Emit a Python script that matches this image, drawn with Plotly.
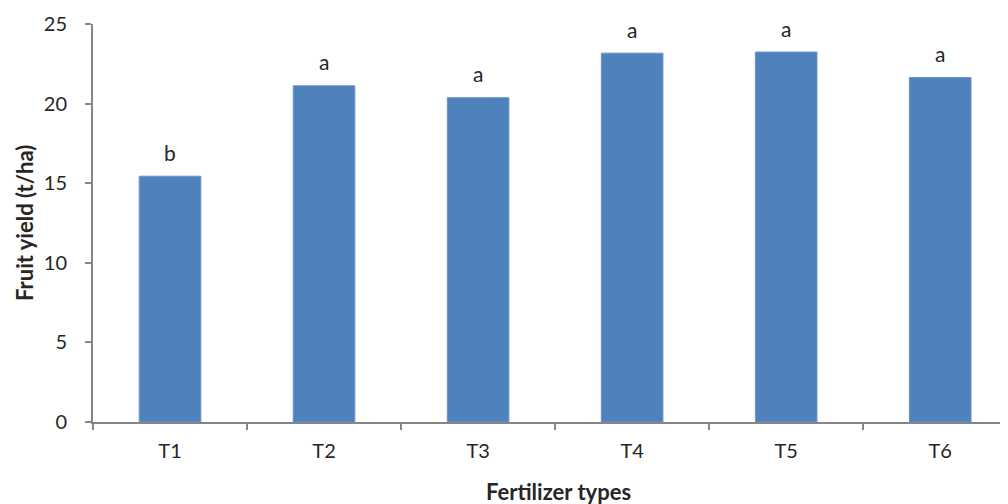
import plotly.graph_objects as go

categories = ["T1", "T2", "T3", "T4", "T5", "T6"]
yields = [15.44, 21.12, 20.37, 23.17, 23.24, 21.64]
letters = ["b", "a", "a", "a", "a", "a"]

FONT = "Lato, Calibri, Carlito, sans-serif"
TXT = "#262626"
AX = "#868686"

fig = go.Figure()
fig.add_trace(go.Bar(
    x=categories, y=yields, width=0.4,
    marker=dict(color="#4F81BD", line=dict(color="#6A95C8", width=1)),
    hoverinfo="x+y",
))

annotations = []
for c, v, l in zip(categories, yields, letters):
    annotations.append(dict(x=c, y=v, xref="x", yref="y", text=l, showarrow=False,
                            yanchor="middle", yshift=24,
                            font=dict(family=FONT, size=21, color=TXT)))
annotations.append(dict(x=2.52, y=-0.174, xref="x", yref="paper", text="<b>Fertilizer types</b>",
                        showarrow=False, yanchor="middle", xanchor="center",
                        font=dict(family=FONT, size=22, color=TXT)))
annotations.append(dict(x=-0.0754, y=0.5, xref="paper", yref="paper", text="<b>Fruit yield (t/ha)</b>",
                        showarrow=False, yanchor="middle", xanchor="center", textangle=-90,
                        font=dict(family=FONT, size=22, color=TXT)))

# page body has an 8px default margin, so the figure is offset by 8px
fig.update_layout(
    width=1000, height=496,
    margin=dict(l=85, r=0, t=15.5, b=82.3),
    paper_bgcolor="white", plot_bgcolor="white",
    showlegend=False,
    font=dict(family=FONT, size=20, color=TXT),
    annotations=annotations,
    xaxis=dict(
        type="category", range=[-0.5, 5.44], automargin=False,
        showline=True, linecolor=AX, linewidth=2,
        ticks="outside", ticklen=6, tickcolor=AX, tickwidth=2,
        tickson="boundaries", ticklabelstandoff=10,
        showgrid=False, zeroline=False,
        tickfont=dict(family=FONT, size=20, color=TXT),
    ),
    yaxis=dict(
        range=[0, 25], dtick=5, tick0=0, automargin=False,
        showline=True, linecolor=AX, linewidth=2,
        ticks="outside", ticklen=6, tickcolor=AX, tickwidth=2,
        ticklabelstandoff=14,
        showgrid=False, zeroline=False,
        tickfont=dict(family=FONT, size=20, color=TXT),
    ),
)

fig.write_html("out.html")
